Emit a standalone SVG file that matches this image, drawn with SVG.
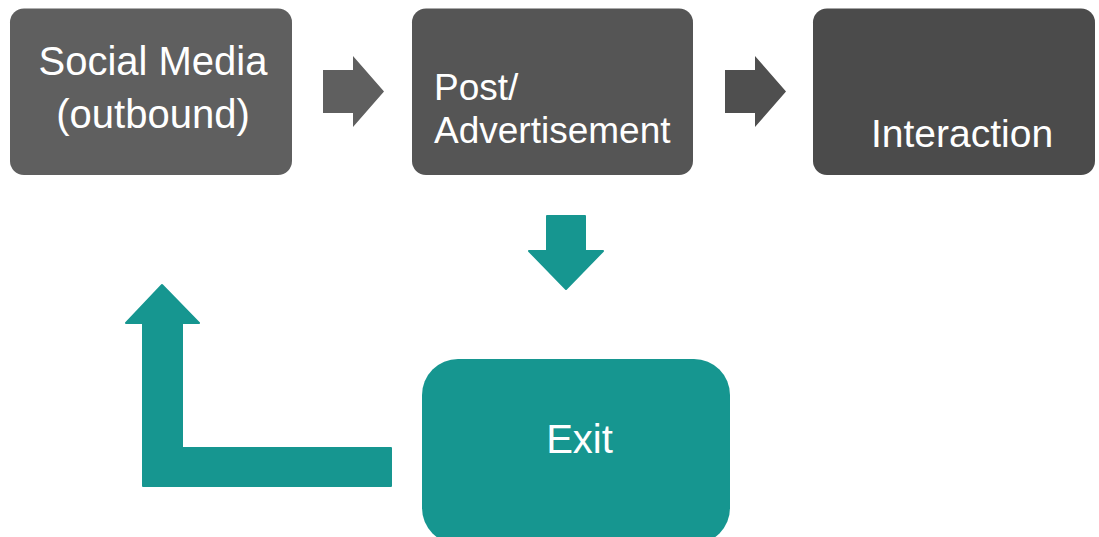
<svg xmlns="http://www.w3.org/2000/svg" width="1099" height="537" viewBox="0 0 1099 537">
  <style>
    .lbl { font-family: "Liberation Sans", Arial, sans-serif; fill: #ffffff; }
    .teal { fill: #169690; }
  </style>
  <rect width="1099" height="537" fill="#ffffff"/>

  <g id="node-social-media">
    <rect x="10" y="8.5" width="282" height="166.5" rx="14" fill="#5f5f5f"/>
    <text class="lbl" x="153" y="75" font-size="40" text-anchor="middle">Social Media</text>
    <text class="lbl" x="153" y="128" font-size="40" text-anchor="middle">(outbound)</text>
  </g>

  <g id="node-post">
    <rect x="412" y="8.5" width="281" height="166.5" rx="14" fill="#555555"/>
    <text class="lbl" x="434" y="100" font-size="37">Post/</text>
    <text class="lbl" x="434" y="143" font-size="37">Advertisement</text>
  </g>

  <g id="node-interaction">
    <rect x="813" y="8.5" width="282" height="166.5" rx="14" fill="#4b4b4b"/>
    <text class="lbl" x="871" y="147" font-size="39">Interaction</text>
  </g>

  <g id="node-exit">
    <rect x="422" y="359" width="308" height="185" rx="36" class="teal"/>
    <text class="lbl" x="579.5" y="453" font-size="40" text-anchor="middle">Exit</text>
  </g>

  <g id="connectors" stroke-linejoin="round">
    <!-- block arrow: Social Media to Post -->
    <polygon points="323,70 353,70 353,56 384,91.5 353,127 353,113 323,113" fill="#5f5f5f"/>
    <!-- block arrow: Post to Interaction -->
    <polygon points="725,70 755,70 755,56 786,91.5 755,127 755,113 725,113" fill="#4f4f4f"/>
    <!-- down arrow: Post to Exit -->
    <polygon points="547,216 585,216 585,251 603,251 566,289 529,251 547,251" class="teal" stroke="#169690" stroke-width="2"/>
    <!-- return arrow: Exit back to Social Media -->
    <polygon points="391,448 391,486 143,486 143,323 126,323 162,285 199,323 182,323 182,448" class="teal" stroke="#169690" stroke-width="2"/>
  </g>
</svg>
